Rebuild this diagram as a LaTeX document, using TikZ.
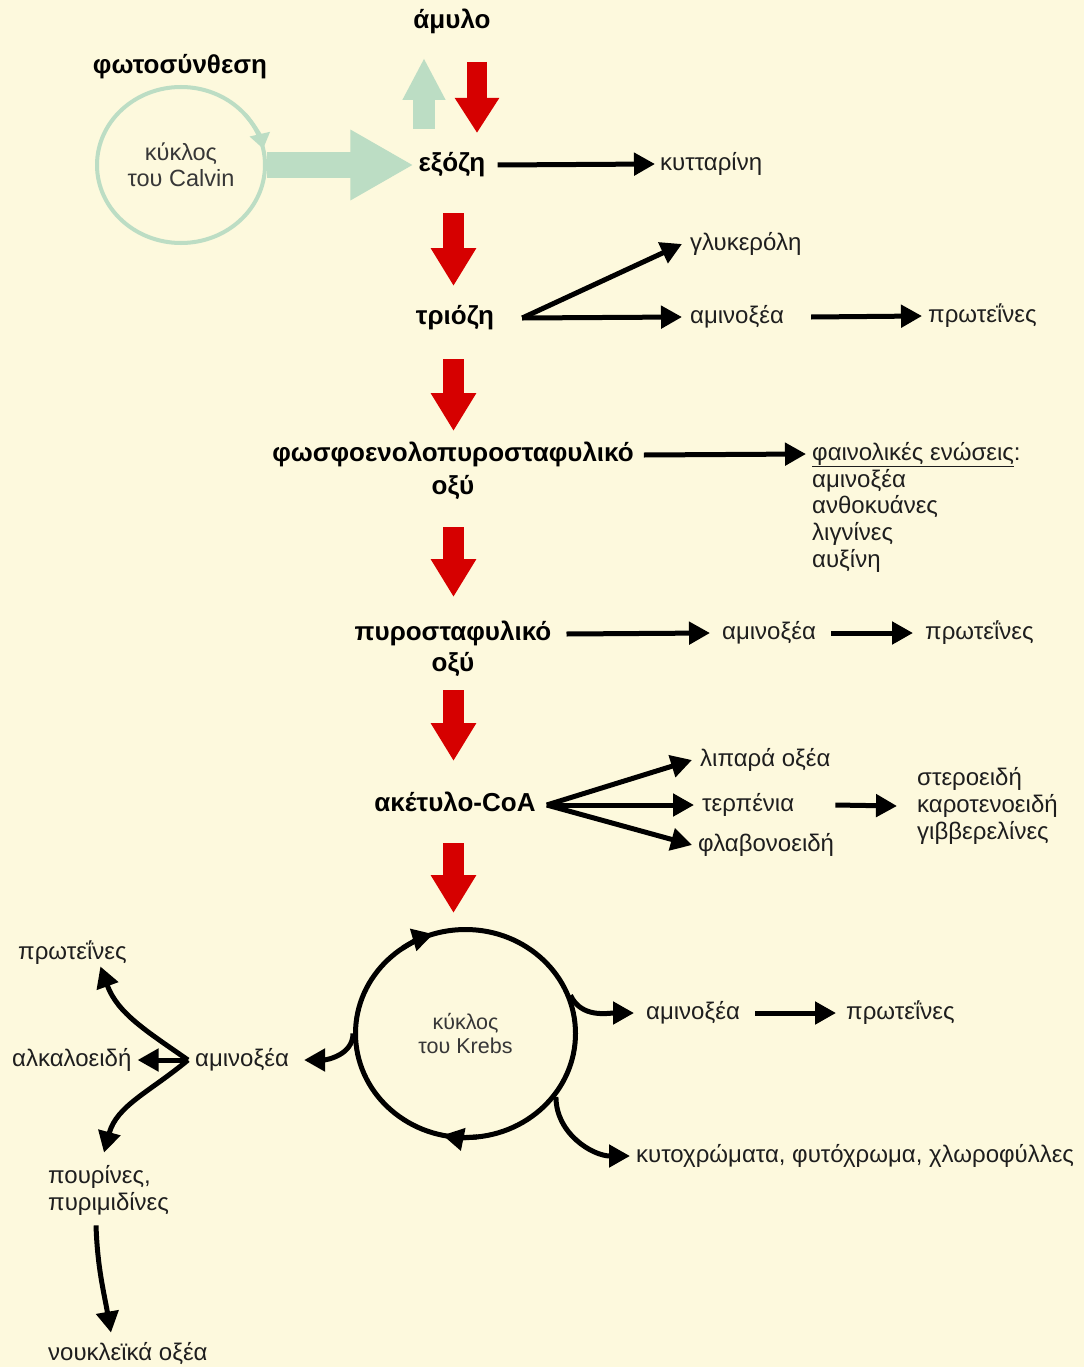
\documentclass[tikz,border=0pt]{standalone}
\usepackage{fontspec}
\usetikzlibrary{arrows.meta,shapes.geometric}
\newfontfamily\lsans{Liberation Sans}
\definecolor{bgc}{RGB}{253,249,221}
\definecolor{redc}{RGB}{214,0,0}
\definecolor{grn}{RGB}{188,221,196}
\definecolor{txt}{RGB}{30,30,30}
\definecolor{cyc}{RGB}{55,55,55}
\begin{document}
\begin{tikzpicture}[x=1pt,y=1pt,
  lbl/.style={font=\lsans\fontsize{24}{27}\selectfont, text=txt, inner sep=0pt, text height=13.4pt, text depth=1pt, anchor=west},
  bld/.style={font=\lsans\bfseries\fontsize{26}{30}\selectfont, text=black, inner sep=0pt, text height=14.6pt, text depth=1pt},
  blk/.style={draw=black, line width=5pt, -{Triangle[length=21pt,width=22pt]}},
  redarr/.style={draw=redc, line width=21pt, -{Triangle[length=38pt,width=43pt]}},
  grnbig/.style={draw=grn, line width=26pt, -{Triangle[length=63pt,width=66pt]}},
  grnup/.style={draw=grn, line width=22pt, -{Triangle[length=42pt,width=40pt]}},
  cycle/.style={ellipse, inner sep=0pt, align=center, text=cyc}
]
\fill[bgc] (0,0) rectangle (1084,-1367);
\useasboundingbox (0,0) rectangle (1084,-1367);

% main column
\node[bld] (amylo) at (452,-22) {άμυλο};
\node[bld] (fotos) at (180,-67) {φωτοσύνθεση};
\node[cycle, draw=grn, line width=4pt, minimum width=168pt, minimum height=156pt,
      font=\lsans\fontsize{23.5}{26}\selectfont] (calvin) at (181,-165) {κύκλος\\του Calvin};
\node[bld] (eksozi) at (452,-165) {εξόζη};
\node[lbl] (kyttarini) at (660,-164) {κυτταρίνη};
\node[bld] (trioze) at (455,-318) {τριόζη};
\node[lbl] (glyk) at (690,-244) {γλυκερόλη};
\node[lbl] (amA) at (690,-317) {αμινοξέα};
\node[lbl] (prA) at (928,-316) {πρωτεΐνες};
\node[bld] (pep) at (453,-455) {φωσφοενολοπυροσταφυλικό};
\node[bld] (pepb) at (453,-488) {οξύ};
\node[lbl] (fain) at (812,-454) {\underline{φαινολικές ενώσεις}:};
\node[lbl] (fa1) at (812,-481) {αμινοξέα};
\node[lbl] (fa2) at (812,-507) {ανθοκυάνες};
\node[lbl] (fa3) at (812,-534) {λιγνίνες};
\node[lbl] (fa4) at (812,-561) {αυξίνη};
\node[bld] (pyr) at (453,-634) {πυροσταφυλικό};
\node[bld] (pyrb) at (453,-665) {οξύ};
\node[lbl] (amB) at (722,-633) {αμινοξέα};
\node[lbl] (prB) at (925,-633) {πρωτεΐνες};
\node[bld] (acet) at (455,-805) {ακέτυλο-CoA};
\node[lbl] (lip) at (700,-760) {λιπαρά οξέα};
\node[lbl] (terp) at (702,-805) {τερπένια};
\node[lbl] (flav) at (698,-845) {φλαβονοειδή};
\node[lbl] (ster) at (917,-779) {στεροειδή};
\node[lbl] (karo) at (917,-806) {καροτενοειδή};
\node[lbl] (gibb) at (917,-833) {γιββερελίνες};
\node[cycle, draw=black, line width=5pt, minimum width=220pt, minimum height=208pt,
      font=\lsans\fontsize{21.5}{24}\selectfont] (krebs) at (465.5,-1033.5) {κύκλος\\του Krebs};
\node[lbl] (amC) at (646,-1013) {αμινοξέα};
\node[lbl] (prC) at (846,-1013) {πρωτεΐνες};
\node[lbl] (kyto) at (636,-1156) {κυτοχρώματα, φυτόχρωμα, χλωροφύλλες};
\node[lbl] (amD) at (195,-1060) {αμινοξέα};
\node[lbl] (alk) at (12,-1060) {αλκαλοειδή};
\node[lbl] (prD) at (18,-953) {πρωτεΐνες};
\node[lbl] (pour) at (48,-1177) {πουρίνες,};
\node[lbl] (pyrim) at (48,-1204) {πυριμιδίνες};
\node[lbl] (noukl) at (48,-1354) {νουκλεϊκά οξέα};

% green arrows
\draw[grnbig] (calvin.east) -- ([xshift=-5]eksozi.west);
\coordinate (gu0) at (424,-129);
\coordinate (gu1) at (424,-58);
\draw[grnup] (gu0) -- (gu1);
\draw[draw=grn, line width=4pt, -{Triangle[length=15pt,width=20pt]}]
  ([shift={(40:84 and 78)}]calvin.center) arc[start angle=40, end angle=12, x radius=84, y radius=78];

% red arrows
\draw[redarr, line width=20pt, -{Triangle[length=35pt,width=42pt]}] (477,-62) -- (477,-133);
\draw[redarr] (453.5,-213) -- (453.5,-286);
\draw[redarr] (453.5,-359) -- (453.5,-431);
\draw[redarr] (453.5,-527) -- (453.5,-597);
\draw[redarr] (453.5,-690) -- (453.5,-761);
\draw[redarr] (453.5,-843) -- (453.5,-913);

% black arrows
\draw[blk] ([xshift=12]eksozi.east) -- ([xshift=-5]kyttarini.west);
\coordinate (tf) at ([xshift=28]trioze.east);
\draw[blk] (tf) -- ([xshift=-8]glyk.west);
\draw[blk] (tf) -- ([xshift=-8]amA.west);
\draw[blk] ([xshift=27]amA.east) -- ([xshift=-6]prA.west);
\draw[blk] ([xshift=10]pep.east) -- ([xshift=-6]fain.west);
\draw[blk] ([xshift=15]pyr.east) -- ([xshift=-12]amB.west);
\draw[blk] ([xshift=15]amB.east) -- ([xshift=-12]prB.west);
\coordinate (af) at ([xshift=11]acet.east);
\draw[blk] (af) -- ([xshift=-8]lip.west);
\draw[blk] (af) -- ([xshift=-8]terp.west);
\draw[blk] (af) -- ([xshift=-6]flav.west);
\draw[blk] ([xshift=41]terp.east) -- ([xshift=-20]karo.west);

% Krebs cycle
\draw[line width=5pt, -{Triangle[length=21pt,width=22pt]}]
  ([shift={(125:110 and 104)}]krebs.center) arc[start angle=125, end angle=107, x radius=110, y radius=104];
\draw[line width=5pt, -{Triangle[length=21pt,width=22pt]}]
  ([shift={(276:110 and 104)}]krebs.center) arc[start angle=276, end angle=258, x radius=110, y radius=104];
\draw[blk] (krebs.20) to[out=-65,in=180] ([xshift=-12]amC.west);
\draw[blk] ([xshift=15]amC.east) -- ([xshift=-10]prC.west);
\draw[blk] (krebs.-35) to[out=-90,in=180] ([xshift=-6]kyto.west);
\draw[blk] (krebs.180) to[out=-90,in=0] ([xshift=15]amD.east);

% left tree
\coordinate (jn) at ([xshift=-7]amD.west);
\draw[blk] (jn) -- ([xshift=6]alk.east);
\draw[blk] (jn) to[out=145,in=-70] ([xshift=28,yshift=-6]prD.south);
\draw[blk] (jn) to[out=-140,in=75] ([xshift=56,yshift=17]pour.north west);
\draw[blk] ([xshift=48,yshift=-14]pyrim.south west) to[out=-88,in=100] ([xshift=63,yshift=14]noukl.north west);
\end{tikzpicture}
\end{document}
